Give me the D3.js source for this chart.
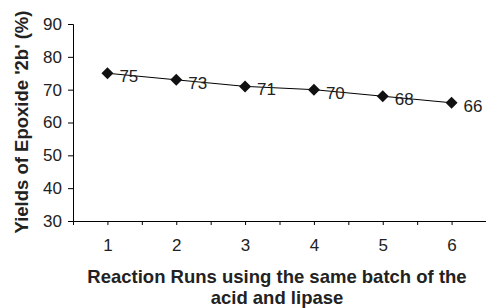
<!DOCTYPE html>
<html>
<head>
<meta charset="utf-8">
<script src="https://cdn.jsdelivr.net/npm/d3@7"></script>
<style>
body { margin: 0; background: #fff; }
text { font-family: "Liberation Sans", Arial, sans-serif; fill: #222; }
</style>
</head>
<body>
<svg width="486" height="308"></svg>
<script>
var runs = [1, 2, 3, 4, 5, 6];
var yields = [75, 73, 71, 70, 68, 66];
var yTicks = [30, 40, 50, 60, 70, 80, 90];

var svg = d3.select("svg");

var x = d3.scaleLinear().domain([0.5, 6.5]).range([73, 486]);
var y = d3.scaleLinear().domain([30, 90]).range([221, 24]);

// y axis
var yAxis = svg.append("g")
    .attr("transform", "translate(73,0)")
    .call(d3.axisLeft(y).tickValues(yTicks).tickSize(5).tickPadding(6));
yAxis.selectAll("text").style("font-size", "17px").attr("fill", "#222");

// x axis, ticks at centers and band edges
var xTickVals = d3.range(1, 13).map(function(i) { return 0.5 + i * 0.5; });
var xAxis = svg.append("g")
    .attr("transform", "translate(0,221)")
    .call(d3.axisBottom(x).tickValues(xTickVals).tickSize(4).tickPadding(14)
      .tickFormat(function(d) { return Number.isInteger(d) ? d : ""; }));
xAxis.selectAll("text").style("font-size", "17px").attr("fill", "#222");
svg.selectAll(".domain").attr("stroke", "#000");
svg.selectAll(".tick line").attr("stroke", "#000");

var line = d3.line()
    .x(function(d, i) { return x(runs[i]); })
    .y(function(d) { return y(d); });

svg.append("path")
    .datum(yields)
    .attr("d", line)
    .attr("fill", "none")
    .attr("stroke", "#000")
    .attr("stroke-width", 1);

svg.selectAll(".pt")
    .data(yields)
    .enter().append("path")
    .attr("class", "pt")
    .attr("d", d3.symbol().type(d3.symbolSquare).size(72))
    .attr("transform", function(d, i) { return "translate(" + x(runs[i]) + "," + y(d) + ") rotate(45)"; })
    .attr("fill", "#111");

svg.selectAll(".lbl")
    .data(yields)
    .enter().append("text")
    .attr("class", "lbl")
    .attr("x", function(d, i) { return x(runs[i]) + 12; })
    .attr("y", function(d) { return y(d) + 9; })
    .style("font-size", "17px")
    .text(function(d) { return d; });

// axis titles
svg.append("text")
    .attr("x", 277).attr("y", 283)
    .attr("text-anchor", "middle")
    .style("font-size", "18.5px").style("font-weight", "bold")
    .text("Reaction Runs using the same batch of the");
svg.append("text")
    .attr("x", 277).attr("y", 304)
    .attr("text-anchor", "middle")
    .style("font-size", "18.5px").style("font-weight", "bold")
    .text("acid and lipase");

svg.append("text")
    .attr("transform", "translate(28,122) rotate(-90)")
    .attr("text-anchor", "middle")
    .style("font-size", "18.5px").style("font-weight", "bold")
    .text("Yields of Epoxide '2b' (%)");
</script>
</body>
</html>
